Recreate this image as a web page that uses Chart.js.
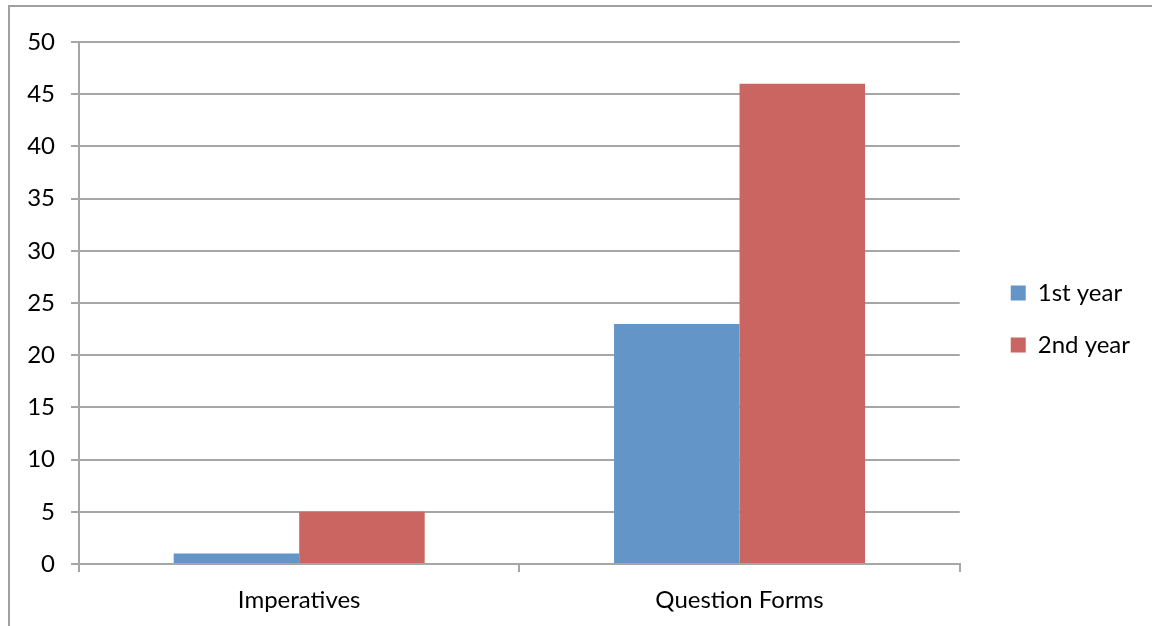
<!DOCTYPE html>
<html>
<head>
<meta charset="utf-8">
<title>Imperatives and Question Forms</title>
<script src="https://cdn.jsdelivr.net/npm/chart.js@4/dist/chart.umd.min.js"></script>
<style>
    html, body { margin: 0; padding: 0; background: #fff; overflow: hidden; }
    #frame {
        position: absolute; left: 8px; top: 5px;
        width: 1300px; height: 800px;
        border: 2px solid #a0a0a0;
    }
    #wrap { position: absolute; left: 0; top: 0; width: 1152px; height: 626px; }
</style>
</head>
<body>
<div id="frame"></div>
<div id="wrap"><canvas id="forms-chart"></canvas></div>
<script>
'use strict';

var categories = ['Imperatives', 'Question Forms'];
var firstYear = [1, 23];
var secondYear = [5, 46];
var seriesNames = ['1st year', '2nd year'];
var yTicks = [0, 5, 10, 15, 20, 25, 30, 35, 40, 45, 50];

let FormsChart = function(){

    var gridColor = '#a6a6a6';
    var font = { family: 'Lato', size: 24 };

    // keep the legend a little away from the plot and nudge it vertically
    var legendGap = 23;
    var legendShiftY = -15;

    var _legendPlacer = {
        id : 'legendPlacer',
        afterLayout : function(chart){
            var lg = chart.legend;
            if (!lg) return;
            var w = lg.right - lg.left;
            lg.left = chart.chartArea.right + legendGap;
            lg.right = lg.left + w;
            lg.top += legendShiftY;
            lg.bottom += legendShiftY;
        }
    };

    var _draw = function(){
        var ctx = document.getElementById('forms-chart').getContext('2d');

        var config = {
            type : 'bar',
            data : {
                labels : categories,
                datasets : [{
                    label : seriesNames[0],
                    backgroundColor : '#6395c9',
                    data : firstYear,
                }, {
                    label : seriesNames[1],
                    backgroundColor : '#cb6562',
                    data : secondYear,
                }],
            },
            options : {
                responsive : true,
                maintainAspectRatio : false,
                animation : false,
                categoryPercentage : 0.57,
                barPercentage : 1.0,
                layout : { padding : { top : 42, right : 35, bottom : 0, left : 0 } },
                plugins : {
                    tooltip : { enabled : false },
                    legend : {
                        position : 'right',
                        labels : {
                            font : font,
                            color : '#000',
                            boxWidth : 15,
                            boxHeight : 15,
                            padding : 28,
                        },
                    },
                },
                scales : {
                    x : {
                        grid : {
                            offset : true,
                            drawOnChartArea : false,
                            color : gridColor,
                            lineWidth : 2,
                            tickLength : 8,
                        },
                        border : { color : gridColor, width : 2 },
                        ticks : { font : font, color : '#000', padding : 14 },
                        afterFit : function(s){ s.height = 62; },
                    },
                    y : {
                        min : yTicks[0],
                        max : yTicks[yTicks.length - 1],
                        grid : { color : gridColor, lineWidth : 2, tickLength : 8 },
                        border : { color : gridColor, width : 2 },
                        ticks : {
                            stepSize : yTicks[1] - yTicks[0],
                            font : font,
                            color : '#000',
                            padding : 16,
                        },
                        afterFit : function(s){ s.width = 79; },
                    },
                },
            },
            plugins : [_legendPlacer],
        };

        window.forms_chart = new Chart(ctx, config);
    };

    return {
        init : function(){
            _draw();
        }
    }

}();

document.addEventListener('DOMContentLoaded', function(){
    FormsChart.init();
});
</script>
</body>
</html>
